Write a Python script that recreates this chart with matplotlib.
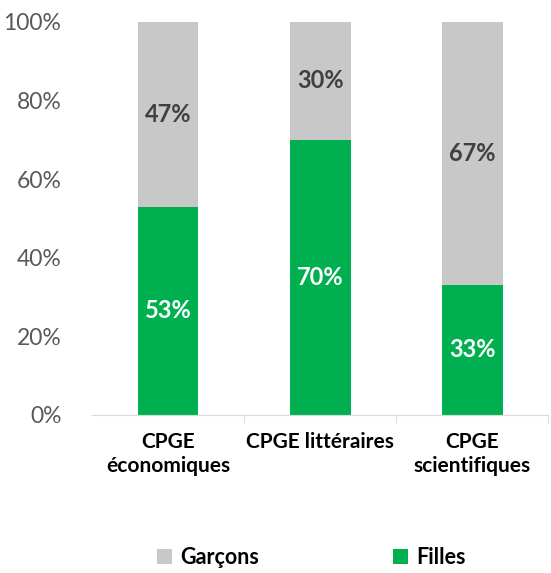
import matplotlib
matplotlib.use('Agg')

import matplotlib.pyplot as plt
import numpy as np

# Data
categories = ["CPGE\néconomiques", "CPGE littéraires", "CPGE\nscientifiques"]
filles = [53, 70, 33]
garcons = [47, 30, 67]
y_ticks = [0, 20, 40, 60, 80, 100]

green = "#00B050"
grey = "#C8C8C8"

plt.rcParams['font.family'] = ['Lato', 'DejaVu Sans']

fig = plt.figure(figsize=(5.51, 5.73), dpi=100)
ax = fig.add_axes([0.167, 0.276, 0.828, 0.686])

x = np.arange(len(categories))
b1 = ax.bar(x, filles, width=0.4, color=green, label="Filles")
b2 = ax.bar(x, garcons, width=0.4, bottom=filles, color=grey, label="Garçons")

# Value labels in the middle of each segment
for i in range(len(categories)):
    ax.text(x[i], filles[i] / 2, "{}%".format(filles[i]), ha="center", va="center",
            color="white", fontsize=17, fontweight="bold")
    ax.text(x[i], filles[i] + garcons[i] / 2, "{}%".format(garcons[i]), ha="center",
            va="center", color="#404040", fontsize=17, fontweight="bold")

ax.set_xlim(-0.5, len(categories) - 0.5)
ax.set_ylim(0, 100)
ax.set_yticks(y_ticks)
ax.set_yticklabels(["{}%".format(v) for v in y_ticks], color="#595959", fontsize=16.5)
ax.tick_params(axis="y", length=0, pad=22)

ax.set_xticks(x)
ax.set_xticklabels(categories, fontsize=15, fontweight="bold", color="black",
                   linespacing=1.3)
ax.set_xticks(np.arange(len(categories)) + 0.5, minor=True)
ax.tick_params(axis="x", which="major", length=0, pad=12)
ax.tick_params(axis="x", which="minor", length=6, color="#D9D9D9")

for side in ["top", "right", "left"]:
    ax.spines[side].set_visible(False)
ax.spines["bottom"].set_color("#D9D9D9")

handles = [b2, b1]
fig.legend(handles, ["Garçons", "Filles"], loc="lower center", ncol=2,
           bbox_to_anchor=(0.565, -0.025), frameon=False,
           prop={"size": 15.5, "weight": "bold"}, handlelength=0.7, handleheight=0.7,
           handletextpad=0.4, columnspacing=6.2)

plt.savefig("out.png", dpi=100)
